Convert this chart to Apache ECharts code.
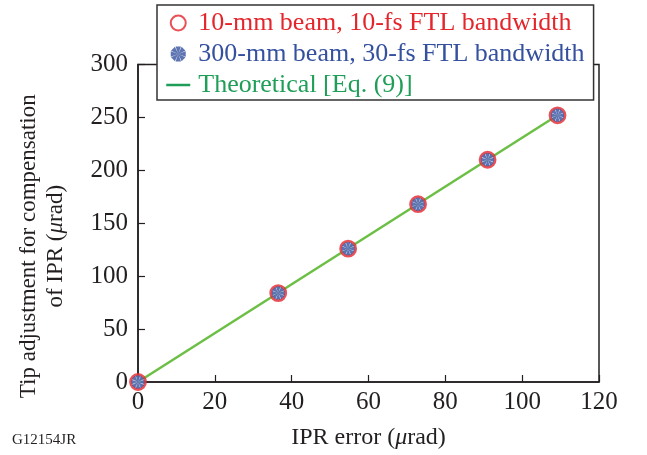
<!DOCTYPE html>
<html>
<head>
<meta charset="utf-8">
<script src="https://cdn.jsdelivr.net/npm/echarts@6/dist/echarts.min.js"></script>
<style>
  html, body { margin: 0; padding: 0; background: #fff; }
  #chart { width: 647px; height: 455px; }
</style>
</head>
<body>
<div id="chart"></div>
<script>
// IPR error (µrad) and matching tip adjustment (µrad)
const iprError = [0, 36.5, 54.7, 72.9, 91.0, 109.2];
const tipSmallBeam = [0, 84, 126, 168, 210, 252];   // 10-mm beam, 10-fs FTL
const tipLargeBeam = [0, 84, 126, 168, 210, 252];   // 300-mm beam, 30-fs FTL
// Eq. (9) endpoints
const theoryX = [0, 109.2];
const theoryY = [0, 252];
const xTicks = [0, 20, 40, 60, 80, 100, 120];
const yTicks = [0, 50, 100, 150, 200, 250, 300];

const seriesNames = [
  '10-mm beam, 10-fs FTL bandwidth',
  '300-mm beam, 30-fs FTL bandwidth',
  'Theoretical [Eq. (9)]'
];

const RED = '#e4262c';
const BLUE = '#34509f';
const GREEN = '#6cbf45';
const GREEN_TEXT = '#1f9e58';
const INK = '#231f20';
const FONT = '"Liberation Serif", "Times New Roman", serif';

// eight-armed asterisk built from wedges around the centre
function asteriskPath() {
  let d = '';
  const R = 10, half = 20 * Math.PI / 180;
  for (let k = 0; k < 8; k++) {
    const a = k * Math.PI / 4 - Math.PI / 2;
    const x1 = (R * Math.cos(a - half)).toFixed(3), y1 = (R * Math.sin(a - half)).toFixed(3);
    const x2 = (R * Math.cos(a + half)).toFixed(3), y2 = (R * Math.sin(a + half)).toFixed(3);
    d += `M0 0L${x1} ${y1}L${x2} ${y2}Z`;
  }
  return 'path://' + d;
}

const zip = (xs, ys) => xs.map((x, i) => [x, ys[i]]);

const chart = echarts.init(document.getElementById('chart'));
chart.setOption({
  animation: false,
  backgroundColor: '#fff',
  grid: {
    left: 138, right: 48, top: 64.5, bottom: 72,
    show: true, borderColor: INK, borderWidth: 1.5,
    backgroundColor: 'transparent'
  },
  legend: {
    orient: 'vertical',
    left: 157, top: 5,
    padding: [5, 9, 2, 8],
    itemGap: 5,
    itemWidth: 24, itemHeight: 15,
    backgroundColor: '#fff',
    borderColor: '#333',
    borderWidth: 1.5,
    z: 10,
    textStyle: { fontFamily: FONT, fontSize: 26, padding: [0, 0, 0, 3] },
    data: [
      { name: seriesNames[0], textStyle: { color: RED } },
      { name: seriesNames[1], textStyle: { color: BLUE } },
      {
        name: seriesNames[2],
        textStyle: { color: GREEN_TEXT },
        itemStyle: { opacity: 0 },
        lineStyle: { color: GREEN_TEXT, width: 2.5 }
      }
    ]
  },
  xAxis: {
    type: 'value', min: 0, max: 120, interval: 20,
    name: 'IPR error ({i|μ}rad)',
    nameLocation: 'middle', nameGap: 44,
    nameTextStyle: {
      fontFamily: FONT, fontSize: 24, color: INK,
      rich: { i: { fontFamily: FONT, fontSize: 24, fontStyle: 'italic', color: INK } }
    },
    axisLine: { show: true, lineStyle: { color: INK, width: 1.5 } },
    axisTick: { show: true, inside: true, length: 7, lineStyle: { color: INK, width: 1.2 } },
    axisLabel: {
      fontFamily: FONT, fontSize: 25, color: INK, margin: 8,
      formatter: v => xTicks.includes(v) ? String(v) : ''
    },
    splitLine: { show: false }
  },
  yAxis: {
    type: 'value', min: 0, max: 300, interval: 50,
    name: 'Tip adjustment for compensation\nof IPR ({i|μ}rad)',
    nameLocation: 'middle', nameGap: 69, nameRotate: 90,
    nameTextStyle: {
      fontFamily: FONT, fontSize: 23, color: INK, lineHeight: 27,
      padding: [0, 46, 0, 0],
      rich: { i: { fontFamily: FONT, fontSize: 23, fontStyle: 'italic', color: INK } }
    },
    axisLine: { show: true, lineStyle: { color: INK, width: 1.5 } },
    axisTick: { show: true, inside: true, length: 7, lineStyle: { color: INK, width: 1.2 } },
    axisLabel: {
      fontFamily: FONT, fontSize: 25, color: INK, margin: 10,
      formatter: v => yTicks.includes(v) ? String(v) : ''
    },
    splitLine: { show: false }
  },
  series: [
    {
      name: seriesNames[2],
      type: 'line',
      data: zip(theoryX, theoryY),
      symbol: 'none',
      lineStyle: { color: GREEN, width: 2.5 },
      itemStyle: { color: GREEN },
      z: 1
    },
    {
      name: seriesNames[0],
      type: 'scatter',
      data: zip(iprError, tipSmallBeam),
      symbol: 'circle',
      symbolSize: 15,
      clip: false,
      itemStyle: { color: '#fff', borderColor: RED, borderWidth: 2.8 },
      z: 2
    },
    {
      name: seriesNames[1],
      type: 'scatter',
      data: zip(iprError, tipLargeBeam),
      symbol: asteriskPath(),
      symbolSize: 13,
      clip: false,
      itemStyle: { color: BLUE },
      z: 3
    }
  ],
  graphic: [
    {
      type: 'text', left: 12, top: 433,
      style: { text: 'G12154JR', fontFamily: FONT, fontSize: 15, fill: INK }
    }
  ]
});
</script>
</body>
</html>
